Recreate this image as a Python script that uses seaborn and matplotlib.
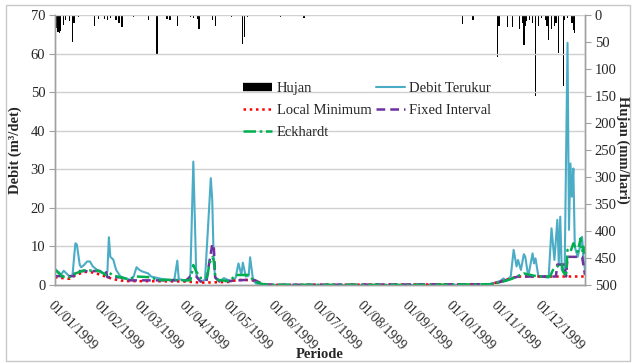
import pandas as pd
import matplotlib
matplotlib.use("Agg")
import matplotlib.pyplot as plt
import matplotlib.transforms as mtransforms
from matplotlib.lines import Line2D
from matplotlib.patches import Rectangle
import seaborn as sns

# day index counted from 01/01/1999
hujan_hari = [1, 2, 3, 4, 6, 7, 10, 12, 13, 16, 27, 30, 34, 36, 38, 42, 44, 46, 54, 64,
              70, 77, 79, 84, 93, 95, 98, 99, 108, 110, 121, 129, 130, 132, 155, 171, 280, 287, 304, 305,
              311, 314, 319, 321, 322, 323, 324, 326, 328, 330, 332, 334, 337, 338, 339, 341, 343, 344, 346, 349,
              350, 352, 355, 356, 357]
hujan_mm = [24, 31, 33, 29, 19, 9, 12, 50, 15, 3, 20, 7, 8, 10, 5, 10, 14, 22, 3, 9,
            74, 8, 10, 20, 4, 6, 8, 26, 10, 20, 3, 54, 40, 4, 3, 6, 17, 9, 77, 20,
            22, 22, 26, 15, 56, 20, 12, 10, 15, 150, 20, 6, 10, 20, 46, 25, 20, 15, 70, 131,
            10, 5, 15, 28, 33]

terukur_hari = [0, 3, 4, 6, 10, 12, 14, 15, 17, 18, 20, 22, 24, 26, 29, 34, 36, 37, 38, 40,
                42, 45, 52, 54, 56, 58, 60, 64, 66, 73, 80, 82, 84, 85, 89, 92, 93, 95, 96, 97,
                98, 100, 103, 105, 107, 108, 109, 110, 113, 116, 121, 124, 126, 128, 129, 131, 133, 134, 136, 138,
                144, 150, 200, 250, 290, 299, 306, 308, 310, 313, 315, 317, 318, 320, 322, 323, 325, 328, 329, 330,
                332, 334, 339, 341, 343, 345, 346, 347, 348, 350, 352, 353, 354, 355, 356, 357, 359, 362, 363, 364]
terukur_nilai = [4.1, 3.2, 2.6, 3.7, 2.2, 2.5, 10.8, 10.5, 5.2, 4.6, 5.2, 6.1, 6.1, 4.8, 3.9, 3.0, 3.5, 12.4, 7.3, 6.6,
                 3.9, 2.2, 1.3, 2.2, 4.6, 3.9, 3.5, 3.0, 2.2, 1.6, 1.3, 1.5, 6.3, 1.5, 1.2, 1.3, 3.0, 32.0, 17.7, 3.0,
                 1.8, 0.9, 1.3, 14.3, 27.7, 22.0, 6.5, 1.8, 0.9, 1.8, 0.9, 1.8, 5.6, 2.6, 5.8, 2.2, 2.4, 7.2, 1.3, 0.4,
                 0.1, 0.05, 0.02, 0.02, 0.1, 0.2, 1.1, 1.7, 1.1, 2.2, 9.1, 4.8, 6.5, 3.9, 8.0, 7.3, 2.2, 8.2, 5.6, 6.9,
                 2.2, 2.2, 1.9, 14.7, 6.5, 16.9, 5.6, 17.7, 3.9, 3.0, 62.8, 14.3, 31.5, 22.9, 30.2, 9.9, 7.3, 12.5, 6.5, 4.0]

localmin_hari = [0, 10, 14, 20, 25, 30, 40, 48, 60, 90, 100, 120, 125, 135, 140, 145, 150, 299, 305, 310, 318, 364]
localmin_nilai = [2.0, 1.6, 2.5, 3.4, 3.3, 2.8, 1.5, 1.0, 1.0, 0.9, 0.6, 0.8, 1.3, 1.3, 0.6, 0.1, 0.02, 0.2, 0.8, 1.4, 2.2, 2.2]

fixed_hari = [0, 10, 13, 14, 35, 36, 45, 50, 90, 93, 97, 100, 104, 106, 108, 109, 110, 113, 130, 137,
              143, 150, 299, 306, 318, 340, 344, 345, 350, 351, 352, 362, 364]
fixed_nilai = [2.3, 2.3, 2.3, 3.6, 3.6, 2.0, 2.0, 1.2, 1.2, 2.2, 2.2, 0.9, 0.9, 6.0, 10.5, 10.5, 2.0, 0.9, 1.3, 1.3,
               0.2, 0.03, 0.2, 0.8, 2.2, 2.2, 2.2, 5.3, 5.3, 2.2, 7.3, 7.3, 2.6]

eckhardt_hari = [0, 5, 10, 14, 20, 30, 35, 37, 40, 50, 56, 66, 70, 85, 89, 93, 95, 97, 100, 104,
                 105, 106, 108, 109, 110, 112, 120, 124, 133, 134, 137, 143, 150, 250, 299, 306, 313, 317, 322, 329,
                 334, 340, 342, 345, 348, 349, 351, 352, 354, 356, 359, 361, 362, 363, 364]
eckhardt_nilai = [4.0, 2.2, 2.0, 3.0, 3.8, 3.7, 2.6, 3.2, 2.5, 1.5, 2.2, 2.0, 1.3, 1.3, 1.2, 1.2, 5.2, 3.5, 1.8, 1.8,
                  3.0, 5.6, 7.2, 6.5, 2.6, 1.3, 1.0, 2.6, 2.6, 2.2, 0.9, 0.2, 0.05, 0.02, 0.2, 0.7, 1.5, 2.2, 3.0, 2.4,
                  2.2, 2.2, 3.9, 4.8, 5.6, 3.5, 2.2, 9.1, 8.6, 10.8, 8.6, 12.1, 8.6, 9.9, 7.0]

bulan = ["01/01/1999", "01/02/1999", "01/03/1999", "01/04/1999", "01/05/1999", "01/06/1999",
         "01/07/1999", "01/08/1999", "01/09/1999", "01/10/1999", "01/11/1999", "01/12/1999"]

start = pd.Timestamp("1999-01-01")


def to_dates(days):
    return start + pd.to_timedelta(days, unit="D")


sns.set_style("white")
plt.rcParams['font.family'] = ['Liberation Serif', 'DejaVu Serif']

fig = plt.figure(figsize=(6.33, 3.63), dpi=100)
ax = fig.add_axes([55 / 633, 1 - 285 / 363, 530 / 633, 270 / 363])
ax2 = ax.twinx()

# rainfall hanging from top
ax2.bar(to_dates(hujan_hari), hujan_mm, width=0.9, color="black", linewidth=0)
ax2.set_ylim(500, 0)
ax2.set_yticks(range(0, 501, 50))

# flows
sns.lineplot(x=to_dates(terukur_hari), y=terukur_nilai, ax=ax, color="#4BACC6", linewidth=1.5)
sns.lineplot(x=to_dates(localmin_hari), y=localmin_nilai, ax=ax, color="#FF0000", linewidth=1.8, linestyle=(0, (1, 1.5)))
sns.lineplot(x=to_dates(fixed_hari), y=fixed_nilai, ax=ax, color="#7030A0", linewidth=1.8, linestyle=(0, (3.5, 2)))
sns.lineplot(x=to_dates(eckhardt_hari), y=eckhardt_nilai, ax=ax, color="#00B050", linewidth=1.8,
             linestyle=(0, (5, 1.5, 1, 1.5)))

ax.set_ylim(0, 70)
ax.set_yticks(range(0, 71, 10))
ax.set_xlim(start, pd.Timestamp("1999-12-31"))
ax.yaxis.grid(True, color="#D0D0D0", linewidth=1)
ax.set_axisbelow(True)
ax.set_zorder(ax2.get_zorder() + 1)
ax.patch.set_visible(False)

ticks = pd.date_range("1999-01-01", periods=12, freq="MS")
ax.set_xticks(ticks)
ax.set_xticklabels(bulan, rotation=-45, ha="left", va="top", rotation_mode="anchor", fontsize=10)
shift = mtransforms.ScaledTranslation(4 / 100, 0, fig.dpi_scale_trans)
for lab in ax.get_xticklabels():
    lab.set_transform(lab.get_transform() + shift)
ax.tick_params(axis="x", length=4, color="#A0A0A0", pad=6)
ax.tick_params(axis="y", length=4, color="#A0A0A0", labelsize=10.5, pad=3)
ax2.tick_params(axis="y", length=4, color="#A0A0A0", labelsize=10.5, pad=3)

for a in (ax, ax2):
    a.spines["top"].set_visible(False)
    for s in ("left", "right", "bottom"):
        a.spines[s].set_color("#A0A0A0")
        a.spines[s].set_linewidth(1)

ax.set_xlabel("Periode", fontweight="bold", fontsize=10.5, labelpad=-4)
ax.set_ylabel("Debit (m³/det)", fontweight="bold", fontsize=10.5, labelpad=6)
ax2.set_ylabel("Hujan (mm/hari)", fontweight="bold", fontsize=10.5, rotation=270, labelpad=9)

handles = [
    Line2D([0], [0], color="black", linewidth=6, solid_capstyle="butt"),
    Line2D([0], [0], color="#FF0000", linewidth=1.8, linestyle=(0, (1, 1.5))),
    Line2D([0], [0], color="#00B050", linewidth=1.8, linestyle=(0, (5, 1.5, 1, 1.5))),
    Line2D([0], [0], color="#4BACC6", linewidth=1.5),
    Line2D([0], [0], color="#7030A0", linewidth=1.8, linestyle=(0, (3.5, 2))),
]
labels = ["Hujan", "Local Minimum", "Eckhardt", "Debit Terukur", "Fixed Interval"]
ax.legend(handles, labels, ncol=2, frameon=False, fontsize=10.5, loc="upper left",
          bbox_to_anchor=(0.33, 0.80), columnspacing=0.3, handletextpad=0.3, labelspacing=0.6,
          handlelength=2.0)

fig.patches.append(Rectangle((6 / 633, 2 / 363), 624 / 633, 356 / 363, transform=fig.transFigure,
                             fill=False, edgecolor="#C8C8C8", linewidth=1))

fig.savefig("out.png", dpi=100)
